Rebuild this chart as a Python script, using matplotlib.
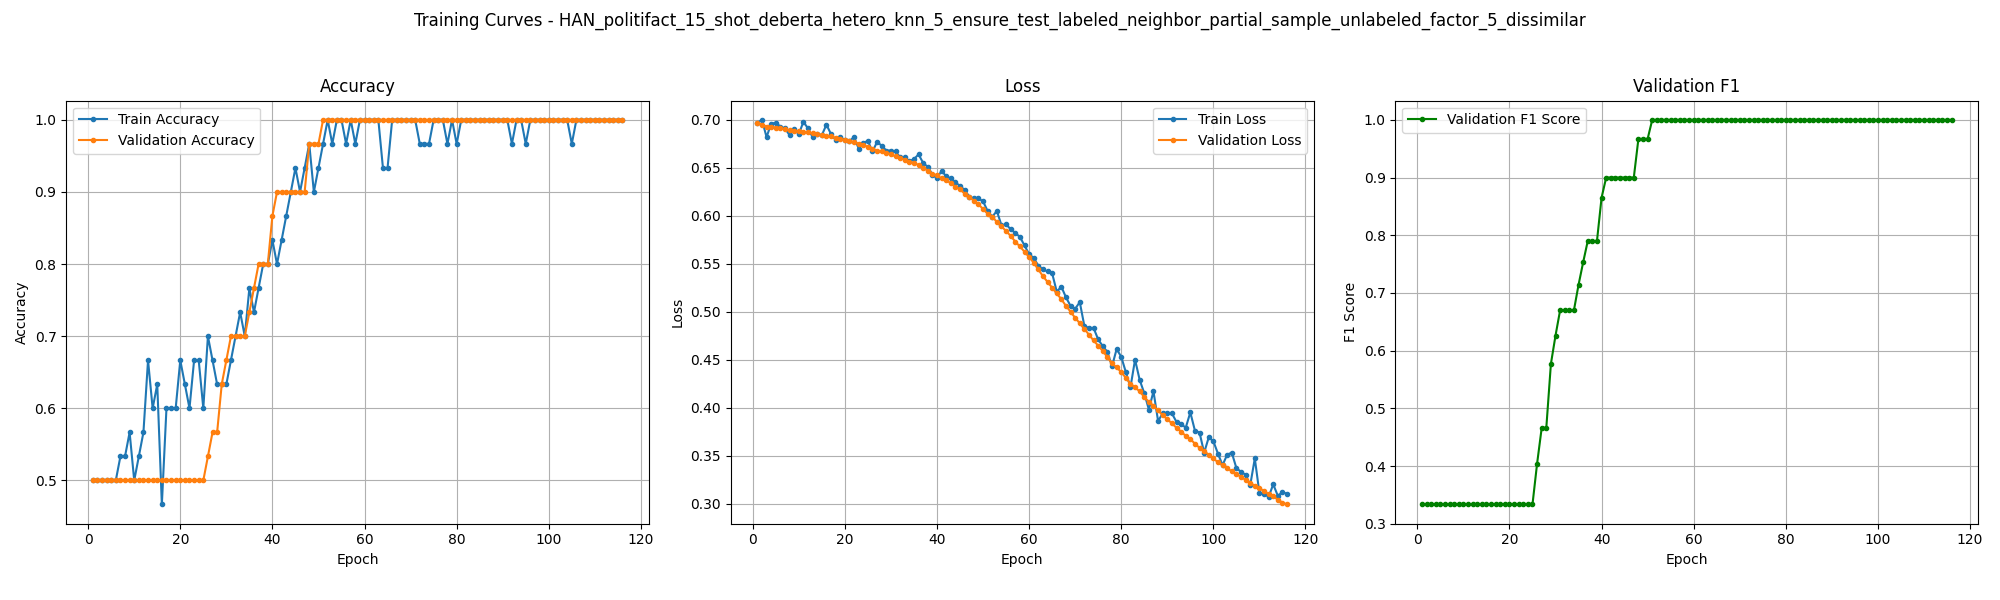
import matplotlib
matplotlib.use('Agg')
import matplotlib.pyplot as plt

title = 'Training Curves - HAN_politifact_15_shot_deberta_hetero_knn_5_ensure_test_labeled_neighbor_partial_sample_unlabeled_factor_5_dissimilar'

epochs = list(range(1, 117))

train_acc = [
    0.5, 0.5, 0.5, 0.5, 0.5, 0.5, 0.5333, 0.5333, 0.5667, 0.5,
    0.5333, 0.5667, 0.6667, 0.6, 0.6333, 0.4667, 0.6, 0.6, 0.6, 0.6667,
    0.6333, 0.6, 0.6667, 0.6667, 0.6, 0.7, 0.6667, 0.6333, 0.6333, 0.6333,
    0.6667, 0.7, 0.7333, 0.7, 0.7667, 0.7333, 0.7667, 0.8, 0.8, 0.8333,
    0.8, 0.8333, 0.8667, 0.9, 0.9333, 0.9, 0.9333, 0.9667, 0.9, 0.9333,
    0.9667, 1.0, 0.9667, 1.0, 1.0, 0.9667, 1.0, 0.9667, 1.0, 1.0,
    1.0, 1.0, 1.0, 0.9333, 0.9333, 1.0, 1.0, 1.0, 1.0, 1.0,
    1.0, 0.9667, 0.9667, 0.9667, 1.0, 1.0, 1.0, 0.9667, 1.0, 0.9667,
    1.0, 1.0, 1.0, 1.0, 1.0, 1.0, 1.0, 1.0, 1.0, 1.0,
    1.0, 0.9667, 1.0, 1.0, 0.9667, 1.0, 1.0, 1.0, 1.0, 1.0,
    1.0, 1.0, 1.0, 1.0, 0.9667, 1.0, 1.0, 1.0, 1.0, 1.0,
    1.0, 1.0, 1.0, 1.0, 1.0, 1.0,
]
val_acc = [
    0.5, 0.5, 0.5, 0.5, 0.5, 0.5, 0.5, 0.5, 0.5, 0.5,
    0.5, 0.5, 0.5, 0.5, 0.5, 0.5, 0.5, 0.5, 0.5, 0.5,
    0.5, 0.5, 0.5, 0.5, 0.5, 0.5333, 0.5667, 0.5667, 0.6333, 0.6667,
    0.7, 0.7, 0.7, 0.7, 0.7333, 0.7667, 0.8, 0.8, 0.8, 0.8667,
    0.9, 0.9, 0.9, 0.9, 0.9, 0.9, 0.9, 0.9667, 0.9667, 0.9667,
    1.0, 1.0, 1.0, 1.0, 1.0, 1.0, 1.0, 1.0, 1.0, 1.0,
    1.0, 1.0, 1.0, 1.0, 1.0, 1.0, 1.0, 1.0, 1.0, 1.0,
    1.0, 1.0, 1.0, 1.0, 1.0, 1.0, 1.0, 1.0, 1.0, 1.0,
    1.0, 1.0, 1.0, 1.0, 1.0, 1.0, 1.0, 1.0, 1.0, 1.0,
    1.0, 1.0, 1.0, 1.0, 1.0, 1.0, 1.0, 1.0, 1.0, 1.0,
    1.0, 1.0, 1.0, 1.0, 1.0, 1.0, 1.0, 1.0, 1.0, 1.0,
    1.0, 1.0, 1.0, 1.0, 1.0, 1.0,
]
train_loss = [
    0.697, 0.700, 0.682, 0.696, 0.697, 0.693, 0.691, 0.684, 0.690, 0.685,
    0.698, 0.691, 0.682, 0.685, 0.684, 0.695, 0.685, 0.679, 0.682, 0.679,
    0.678, 0.682, 0.670, 0.676, 0.678, 0.667, 0.677, 0.673, 0.668, 0.668,
    0.667, 0.661, 0.661, 0.657, 0.659, 0.664, 0.655, 0.651, 0.643, 0.639,
    0.647, 0.641, 0.639, 0.635, 0.631, 0.627, 0.620, 0.618, 0.618, 0.615,
    0.605, 0.599, 0.605, 0.590, 0.591, 0.586, 0.582, 0.578, 0.569, 0.560,
    0.556, 0.548, 0.544, 0.542, 0.540, 0.521, 0.526, 0.515, 0.506, 0.503,
    0.510, 0.485, 0.483, 0.483, 0.471, 0.464, 0.458, 0.443, 0.461, 0.453,
    0.437, 0.421, 0.450, 0.429, 0.415, 0.398, 0.417, 0.386, 0.394, 0.394,
    0.394, 0.385, 0.383, 0.379, 0.395, 0.376, 0.374, 0.353, 0.369, 0.365,
    0.352, 0.340, 0.351, 0.353, 0.337, 0.333, 0.330, 0.319, 0.347, 0.311,
    0.310, 0.307, 0.320, 0.308, 0.312, 0.310,
]
val_loss = [
    0.697, 0.695, 0.693, 0.693, 0.692, 0.691, 0.690, 0.689, 0.6885, 0.688,
    0.6875, 0.687, 0.686, 0.685, 0.684, 0.683, 0.683, 0.681, 0.6805, 0.679,
    0.678, 0.677, 0.675, 0.6735, 0.672, 0.670, 0.668, 0.667, 0.6655, 0.664,
    0.662, 0.660, 0.6585, 0.6565, 0.655, 0.653, 0.650, 0.647, 0.644, 0.642,
    0.639, 0.637, 0.634, 0.630, 0.6275, 0.623, 0.620, 0.6155, 0.612, 0.607,
    0.602, 0.599, 0.5935, 0.589, 0.584, 0.579, 0.573, 0.568, 0.5625, 0.557,
    0.551, 0.544, 0.537, 0.531, 0.525, 0.519, 0.513, 0.506, 0.500, 0.4935,
    0.488, 0.482, 0.476, 0.470, 0.4645, 0.459, 0.4525, 0.446, 0.442, 0.437,
    0.431, 0.425, 0.421, 0.417, 0.411, 0.406, 0.402, 0.397, 0.392, 0.388,
    0.3835, 0.379, 0.375, 0.3705, 0.367, 0.3625, 0.358, 0.3545, 0.351, 0.347,
    0.343, 0.340, 0.337, 0.3335, 0.3305, 0.328, 0.3245, 0.3215, 0.3185, 0.316,
    0.313, 0.310, 0.3075, 0.304, 0.301, 0.299,
]
val_f1 = [
    0.3333, 0.3333, 0.3333, 0.3333, 0.3333, 0.3333, 0.3333, 0.3333, 0.3333, 0.3333,
    0.3333, 0.3333, 0.3333, 0.3333, 0.3333, 0.3333, 0.3333, 0.3333, 0.3333, 0.3333,
    0.3333, 0.3333, 0.3333, 0.3333, 0.3333, 0.404, 0.466, 0.466, 0.577, 0.626,
    0.670, 0.670, 0.670, 0.670, 0.714, 0.753, 0.790, 0.790, 0.790, 0.865,
    0.900, 0.900, 0.900, 0.900, 0.900, 0.900, 0.900, 0.967, 0.967, 0.967,
    1.0, 1.0, 1.0, 1.0, 1.0, 1.0, 1.0, 1.0, 1.0, 1.0,
    1.0, 1.0, 1.0, 1.0, 1.0, 1.0, 1.0, 1.0, 1.0, 1.0,
    1.0, 1.0, 1.0, 1.0, 1.0, 1.0, 1.0, 1.0, 1.0, 1.0,
    1.0, 1.0, 1.0, 1.0, 1.0, 1.0, 1.0, 1.0, 1.0, 1.0,
    1.0, 1.0, 1.0, 1.0, 1.0, 1.0, 1.0, 1.0, 1.0, 1.0,
    1.0, 1.0, 1.0, 1.0, 1.0, 1.0, 1.0, 1.0, 1.0, 1.0,
    1.0, 1.0, 1.0, 1.0, 1.0, 1.0,
]

fig, axes = plt.subplots(1, 3, figsize=(20, 6))

ax = axes[0]
ax.plot(epochs, train_acc, marker='o', markersize=3, label='Train Accuracy')
ax.plot(epochs, val_acc, marker='o', markersize=3, label='Validation Accuracy')
ax.set_title('Accuracy')
ax.set_xlabel('Epoch')
ax.set_ylabel('Accuracy')
ax.legend()
ax.grid(True)

ax = axes[1]
ax.plot(epochs, train_loss, marker='o', markersize=3, label='Train Loss')
ax.plot(epochs, val_loss, marker='o', markersize=3, label='Validation Loss')
ax.set_title('Loss')
ax.set_xlabel('Epoch')
ax.set_ylabel('Loss')
ax.legend()
ax.grid(True)

ax = axes[2]
ax.plot(epochs, val_f1, marker='o', markersize=3, color='green', label='Validation F1 Score')
ax.set_title('Validation F1')
ax.set_xlabel('Epoch')
ax.set_ylabel('F1 Score')
ax.legend()
ax.grid(True)

fig.suptitle(title)
plt.tight_layout(rect=[0, 0.03, 1, 0.95])
plt.savefig('out.png')
